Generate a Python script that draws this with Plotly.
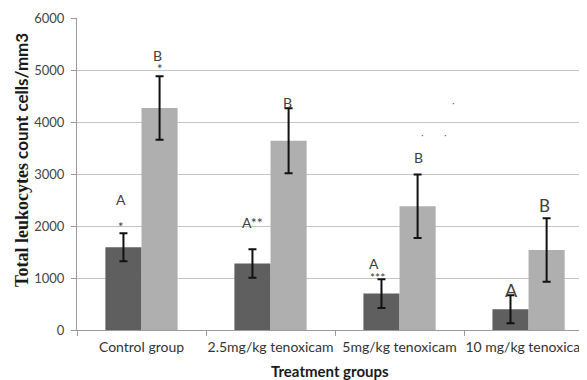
import plotly.graph_objects as go

groups = ["Control group", "2.5mg/kg tenoxicam", "5mg/kg tenoxicam", "10 mg/kg tenoxicam"]
series_a = [1590, 1280, 700, 400]
err_a = [270, 275, 275, 270]
series_b = [4270, 3640, 2380, 1540]
err_b = [610, 625, 610, 610]
y_ticks = [0, 1000, 2000, 3000, 4000, 5000, 6000]

DARK = "#5f5f5f"
LIGHT = "#afafaf"
TXT = "#404040"
SANS = "Lato, 'Open Sans', sans-serif"

fig = go.Figure()
fig.add_trace(go.Bar(x=groups, y=series_a, marker_color=DARK, marker_line_width=0,
                     error_y=dict(type="data", array=err_a, color="#111111", thickness=2, width=4)))
fig.add_trace(go.Bar(x=groups, y=series_b, marker_color=LIGHT, marker_line_width=0,
                     error_y=dict(type="data", array=err_b, color="#111111", thickness=2, width=4)))

OFF = 0.145
# (group index, series, text, xshift, yshift, size)
labels = [
    (0, "a", "A", -2, 34, 14), (0, "a", "*", -2, 6, 13),
    (0, "b", "B", -3, 21, 14), (0, "b", "*", 0, 7, 13),
    (1, "a", "A**", 1, 27, 14),
    (1, "b", "B", -2, 6, 14),
    (2, "a", "A", -7, 16, 14), (2, "a", "***", -3, 2, 12),
    (2, "b", "B", 0, 17, 14),
    (3, "a", "A", 2, 5, 18),
    (3, "b", "B", -3, 13, 17),
]
for gi, s, t, xs, ys, sz in labels:
    if s == "a":
        xv = gi - OFF
        yv = series_a[gi] + err_a[gi]
    else:
        xv = gi + OFF
        yv = series_b[gi] + err_b[gi]
    fig.add_annotation(x=xv, y=yv, xref="x", yref="y", text=t, showarrow=False,
                       xshift=xs, yshift=ys, yanchor="middle",
                       font=dict(family=SANS, size=sz, color=TXT))

# stray specks in the reference
for px, py in [(453, 103), (422, 135), (445, 135)]:
    fig.add_annotation(x=(px - 77) / 510, y=(330 - py) / 312, xref="paper", yref="paper",
                       xanchor="center", yanchor="middle",
                       text="·", showarrow=False, font=dict(size=10, color="#555555"))

fig.add_annotation(x=-0.108, y=0.545, xref="paper", yref="paper", textangle=-90, showarrow=False,
                   xanchor="center", yanchor="middle",
                   text="<span style='font-family:Liberation Serif, serif;font-size:18px'>Total leukocytes</span> count cells/mm3",
                   font=dict(family=SANS, size=17, color="#1a1a1a", weight="bold"))
fig.add_annotation(x=0.496, y=-0.132, xref="paper", yref="paper", showarrow=False,
                   xanchor="center", yanchor="middle",
                   text="Treatment groups",
                   font=dict(family=SANS, size=15, color="#1a1a1a", weight="bold"))

fig.update_layout(
    width=579, height=372,
    margin=dict(l=69, r=0, t=10, b=50),
    paper_bgcolor="white", plot_bgcolor="white",
    barmode="group", bargap=0.44, bargroupgap=0,
    showlegend=False,
    xaxis=dict(range=[-0.5, 3.453], tickson="boundaries", ticks="outside", ticklen=5,
               tickangle=0, automargin=False, ticklabelstandoff=4,
               tickcolor="#9a9a9a", showline=True, linecolor="#9a9a9a", linewidth=1,
               showgrid=False, tickfont=dict(family=SANS, size=14, color="#333333")),
    yaxis=dict(range=[0, 6000], tickvals=y_ticks, ticks="outside", ticklen=5, automargin=False,
               ticklabelstandoff=4,
               tickcolor="#9a9a9a", showline=True, linecolor="#9a9a9a", linewidth=1,
               gridcolor="#c4c4c4", gridwidth=1, zeroline=False,
               tickfont=dict(family=SANS, size=13, color="#444444")),
)
fig.write_html("out.html")
